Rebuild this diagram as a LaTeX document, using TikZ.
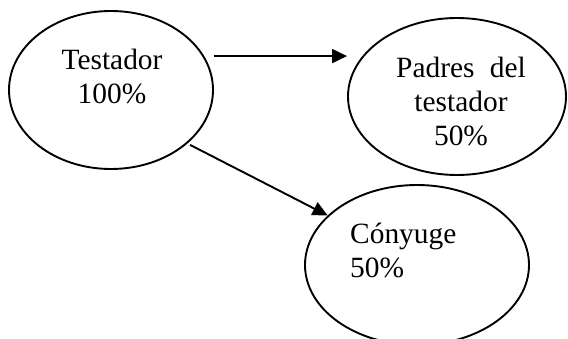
\documentclass[tikz,border=0pt]{standalone}
\usepackage{fontspec}
\setmainfont{Liberation Serif}
\usetikzlibrary{arrows.meta,shapes.geometric}
\begin{document}
\begin{tikzpicture}[x=1pt,y=-1pt,
  bubble/.style={ellipse, draw, line width=1.9pt, inner sep=0pt},
  link/.style={line width=1.9pt, -{Triangle[length=15pt,width=14pt]}},
  lbl/.style={font=\fontsize{29.4}{34}\selectfont, inner sep=0pt, anchor=base}]
\useasboundingbox (0,0) rectangle (568,339);
% the three people as ellipses
\node[bubble, minimum width=204pt, minimum height=158pt] (t) at (111,90) {};
\node[bubble, minimum width=218pt, minimum height=157pt] (p) at (457,96.5) {};
\node[bubble, minimum width=224pt, minimum height=160pt] (c) at (417,265) {};
% their labels (placed by the baseline of the last line)
\node[lbl, align=center] (tl) at (112,104) {Testador\\100\%};
\node[lbl, align=center] (pl) at (461,146) {Padres\hspace{0.52em}del\\testador\\50\%};
\node[lbl, align=left, anchor=base west] (cl) at (350,278) {Cónyuge\\50\%};
% shares passed on
\draw[link, shorten <=10pt] (t.20) -- (t.20 -| p.west);
\draw[link, shorten <=3pt] (t.-35) -- (c.151);
\end{tikzpicture}
\end{document}
